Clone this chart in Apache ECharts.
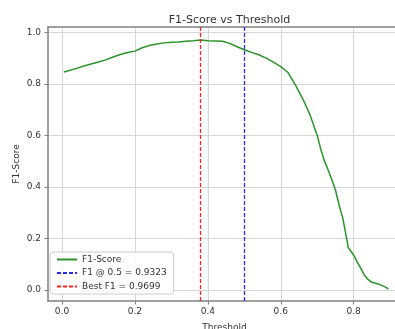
<!DOCTYPE html>
<html>
<head>
<meta charset="utf-8">
<script src="https://cdn.jsdelivr.net/npm/echarts@6/dist/echarts.min.js"></script>
<style>
html,body{margin:0;padding:0;background:#fff;}
#chart{width:395px;height:329px;}
</style>
</head>
<body>
<div id="chart"></div>
<script>
// ---- data ----
const thresholds = [0.005,0.02,0.04,0.06,0.08,0.10,0.12,0.14,0.16,0.18,0.20,0.22,0.24,0.26,0.28,0.30,0.32,0.34,0.36,0.38,0.40,0.42,0.44,0.46,0.48,0.50,0.52,0.54,0.56,0.58,0.60,0.62,0.64,0.66,0.68,0.70,0.71,0.72,0.73,0.74,0.75,0.76,0.77,0.78,0.785,0.79,0.80,0.81,0.82,0.83,0.84,0.85,0.86,0.87,0.88,0.89,0.895];
const f1Scores = [0.846,0.852,0.860,0.869,0.877,0.885,0.893,0.904,0.914,0.922,0.927,0.940,0.949,0.955,0.959,0.961,0.962,0.965,0.967,0.9699,0.967,0.966,0.965,0.957,0.944,0.9323,0.922,0.913,0.900,0.884,0.867,0.844,0.796,0.743,0.681,0.600,0.545,0.500,0.466,0.428,0.388,0.330,0.280,0.205,0.165,0.155,0.135,0.108,0.083,0.056,0.040,0.030,0.026,0.022,0.016,0.009,0.003];
const fixedThreshold = 0.5;
const f1AtFixed = 0.9323;
const bestThreshold = 0.38;
const bestF1 = 0.9699;
const xTicks = [0.0,0.2,0.4,0.6,0.8];
const yTicks = [0.0,0.2,0.4,0.6,0.8,1.0];
const titleText = 'F1-Score vs Threshold';
const xName = 'Threshold';
const yName = 'F1-Score';

const FONT = 'DejaVu Sans';
const TXT = '#333333';
const SPINE = '#808080';
const GRIDC = '#d6d6d6';
const GREEN = '#2a942a';
const BLUE = '#2a2aff';
const RED = '#ff2020';

const X_MIN = -0.0384, X_MAX = 0.9298;
const Y_MIN = -0.0427, Y_MAX = 1.0206;

const chart = echarts.init(document.getElementById('chart'), null, {renderer:'canvas'});
const fmt = v => Number(v).toFixed(1);

chart.setOption({
  animation: false,
  backgroundColor: '#ffffff',
  title: {
    text: titleText,
    left: 224.5, top: 10, textAlign: 'center',
    textStyle: {fontFamily: FONT, fontSize: 11, fontWeight: 'normal', color: TXT}
  },
  grid: {
    left: 48, top: 27, width: 353, height: 274,
    outerBoundsMode: 'none', containLabel: false, show: false
  },
  legend: {
    orient: 'vertical', left: 50, top: 252,
    padding: [3, 7, 3, 6],
    itemWidth: 20, itemHeight: 10, itemGap: 4.5,
    backgroundColor: 'rgba(255,255,255,0.85)',
    borderColor: '#cccccc', borderWidth: 1, borderRadius: 3,
    itemStyle: {opacity: 0},
    textStyle: {fontFamily: FONT, fontSize: 9, color: TXT},
    data: [
      {name: 'F1-Score'},
      {name: 'F1 @ ' + fixedThreshold.toFixed(1) + ' = ' + f1AtFixed.toFixed(4)},
      {name: 'Best F1 = ' + bestF1.toFixed(4)}
    ]
  },
  xAxis: [{
    type: 'value', min: X_MIN, max: X_MAX, position: 'bottom',
    name: xName, nameLocation: 'middle', nameGap: 22, nameMoveOverlap: false,
    nameTextStyle: {fontFamily: FONT, fontSize: 9, color: TXT},
    axisLine: {show: true, onZero: false, lineStyle: {color: SPINE, width: 1.5}},
    axisTick: {show: true, inside: false, length: 3.5, customValues: xTicks, lineStyle: {color: SPINE, width: 1}},
    axisLabel: {customValues: xTicks, formatter: fmt, margin: 6, fontFamily: FONT, fontSize: 9, color: TXT},
    splitLine: {show: true, lineStyle: {color: GRIDC, width: 1}}
  }, {
    type: 'value', min: X_MIN, max: X_MAX, position: 'top',
    axisLine: {show: true, onZero: false, lineStyle: {color: SPINE, width: 1.5}},
    axisTick: {show: false}, axisLabel: {show: false}, splitLine: {show: false}
  }],
  yAxis: {
    type: 'value', min: Y_MIN, max: Y_MAX,
    name: yName, nameLocation: 'middle', nameGap: 27, nameRotate: 90, nameMoveOverlap: false,
    nameTextStyle: {fontFamily: FONT, fontSize: 9, color: TXT},
    axisLine: {show: true, onZero: false, lineStyle: {color: SPINE, width: 1.5}},
    axisTick: {show: true, inside: false, length: 3.5, customValues: yTicks, lineStyle: {color: SPINE, width: 1}},
    axisLabel: {customValues: yTicks, formatter: fmt, margin: 7, fontFamily: FONT, fontSize: 9, color: TXT},
    splitLine: {show: true, lineStyle: {color: GRIDC, width: 1}}
  },
  series: [
    {
      name: 'F1-Score', type: 'line', symbol: 'none', smooth: false,
      data: thresholds.map((t, i) => [t, f1Scores[i]]),
      lineStyle: {color: GREEN, width: 1.5},
      itemStyle: {color: GREEN},
      z: 3
    },
    {
      name: 'F1 @ ' + fixedThreshold.toFixed(1) + ' = ' + f1AtFixed.toFixed(4),
      type: 'line', symbol: 'none', data: [],
      lineStyle: {color: BLUE, width: 1.3, type: [4, 2]},
      itemStyle: {color: BLUE},
      markLine: {
        silent: true, symbol: 'none', label: {show: false},
        lineStyle: {color: BLUE, width: 1.3, type: [4, 2]},
        data: [{xAxis: fixedThreshold}]
      },
      z: 4
    },
    {
      name: 'Best F1 = ' + bestF1.toFixed(4),
      type: 'line', symbol: 'none', data: [],
      lineStyle: {color: RED, width: 1.3, type: [4, 2]},
      itemStyle: {color: RED},
      markLine: {
        silent: true, symbol: 'none', label: {show: false},
        lineStyle: {color: RED, width: 1.3, type: [4, 2]},
        data: [{xAxis: bestThreshold}]
      },
      z: 4
    }
  ]
});
</script>
</body>
</html>
